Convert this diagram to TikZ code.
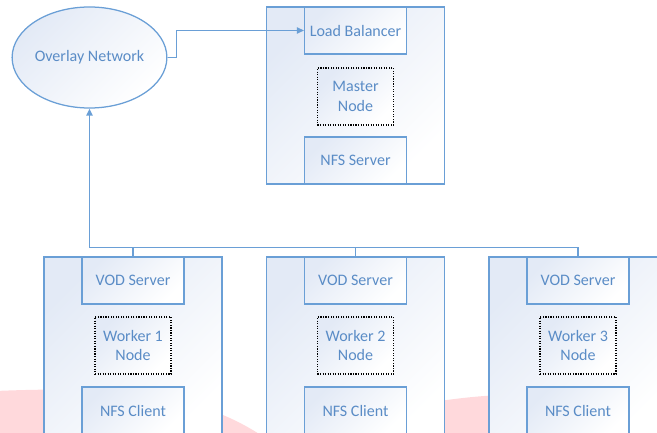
\documentclass[tikz,border=0pt]{standalone}
\usepackage{fontspec}
\setmainfont{Carlito}
\usepackage{tikz}
\usetikzlibrary{arrows.meta,positioning,calc,shapes.geometric}

\definecolor{edgeblue}{HTML}{6A9FD6}
\definecolor{textblue}{HTML}{5A8CC6}
\definecolor{lightfill}{HTML}{E3EAF6}
\definecolor{wmpink}{HTML}{FFD9DC}

\begin{document}
\begin{tikzpicture}[
  x=0.025cm, y=-0.025cm,
  every node/.style={font=\fontsize{11.4}{13.9}\selectfont, text=textblue, align=center, inner sep=0pt},
  shadefill/.style={shading=axis, top color=lightfill, bottom color=white, shading angle=45},
  hostbox/.style={shadefill, draw=edgeblue, line width=1pt, minimum width=4.45cm, minimum height=4.575cm},
  servicebox/.style={shadefill, draw=edgeblue, line width=0.8pt, minimum width=2.55cm, minimum height=1.175cm},
  rolebox/.style={shadefill, draw=black, densely dotted, line width=0.8pt, minimum width=1.9cm, minimum height=1.425cm},
  link/.style={draw=edgeblue, line width=0.9pt},
  arrow/.style={link, -{Triangle[length=5pt,width=4.5pt]}}
]

\useasboundingbox (0,0) rectangle (657,433);
\clip (0,0) rectangle (657,433);

% faint watermark behind the hosts
\fill[wmpink] (-5,391) .. controls (120,386) and (205,392) .. (275,445) -- (-5,445) -- cycle;
\fill[wmpink] (440,401) .. controls (460,398) and (480,396) .. (500,395) -- (500,445) -- (440,445) -- cycle;

% overlay network
\node[ellipse, shadefill, draw=edgeblue, line width=0.9pt, minimum width=3.825cm, minimum height=2.525cm] (net) at (89.5,57.5) {Overlay Network};

% master host
\node[hostbox, minimum height=4.425cm] (master) at (355.5,95.5) {};
\node[servicebox] (lb) at (355.5,30.5) {Load Balancer};
\node[rolebox] (mnode) at (355.5,96.5) {Master\\Node};
\node[servicebox] (nfss) at (355.5,160.5) {NFS Server};

% worker hosts
\node[hostbox] (host1) at (133,348.5) {};
\node[servicebox] (vod1) at (133,280.5) {VOD Server};
\node[rolebox] (wnode1) at (133,345.5) {Worker 1\\Node};
\node[servicebox] (nfsc1) at (133,410.5) {NFS Client};

\node[hostbox] (host2) at (355.5,348.5) {};
\node[servicebox] (vod2) at (355.5,280.5) {VOD Server};
\node[rolebox] (wnode2) at (355.5,345.5) {Worker 2\\Node};
\node[servicebox] (nfsc2) at (355.5,410.5) {NFS Client};

\node[hostbox] (host3) at (578,348.5) {};
\node[servicebox] (vod3) at (578,280.5) {VOD Server};
\node[rolebox] (wnode3) at (578,345.5) {Worker 3\\Node};
\node[servicebox] (nfsc3) at (578,410.5) {NFS Client};

% connectors
\draw[arrow] (net.east) -- ++(9,0) |- (lb.west);

\coordinate (bus) at (89.5,247.5);
\draw[link] (vod3.north) |- (bus);
\draw[link] (vod1.north) -- (vod1.north |- bus);
\draw[link] (vod2.north) -- (vod2.north |- bus);
\draw[arrow, line width=1.1pt] (bus) -- (net.south);

\end{tikzpicture}
\end{document}
